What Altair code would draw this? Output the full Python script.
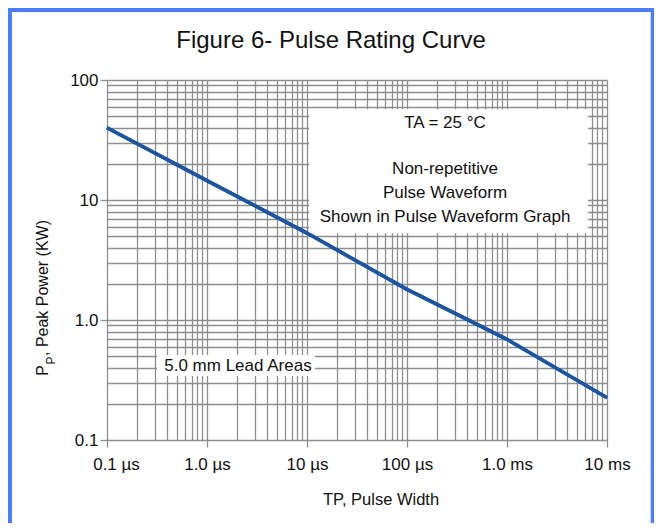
import altair as alt
import pandas as pd

# ---- data ----
pulse_width_us = [0.1, 1, 10, 100, 1000, 10000]
peak_power_kw = [40, 14.5, 5.3, 1.8, 0.69, 0.225]

x_tick_values = [0.1, 1, 10, 100, 1000, 10000]
x_tick_labels = ["0.1 µs", "1.0 µs", "10 µs", "100 µs", "1.0 ms", "10 ms"]
y_tick_values = [0.1, 1, 10, 100]
y_tick_labels = ["0.1", "1.0", "10", "100"]
minor_multipliers = [1, 2, 3, 4, 5, 6, 7, 8, 9]

note_lines = ["TA = 25 °C", "Non-repetitive", "Pulse Waveform", "Shown in Pulse Waveform Graph"]
note_x = [240, 240, 240, 240]
note_y = [39.8, 16.5, 10.4, 6.56]
note_box_x = [10.5, 6450]
note_box_y = [5.28, 57]

lead_text = ["5.0 mm Lead Areas"]
lead_text_x = [2.04]
lead_text_y = [0.376]
lead_box_x = [0.316, 12]
lead_box_y = [0.341, 0.511]

# ---- styling ----
NARROW = "Liberation Sans, Arial, sans-serif"
REG = "Liberation Sans, Arial, sans-serif"
GRID = "#8e8e8e"
LINE = "#1b55a3"
FRAME = "#4a7dfd"
TXT = "#111111"

x_grid = [m * v for v in x_tick_values[:-1] for m in minor_multipliers] + [x_tick_values[-1]]
y_grid = [m * v for v in y_tick_values[:-1] for m in minor_multipliers] + [y_tick_values[-1]]


def label_expr(values, labels):
    expr = "''"
    for v, lab in reversed(list(zip(values, labels))):
        expr = f"abs(datum.value/{v} - 1) < 1e-6 ? '{lab}' : ({expr})"
    return expr


def major_test(values):
    return " || ".join(f"abs(datum.value/{v} - 1) < 1e-6" for v in values)


x_scale = alt.Scale(type="log", domain=[0.1, 10000], nice=False)
y_scale = alt.Scale(type="log", domain=[0.1, 100], nice=False)

x_axis = alt.Axis(
    values=x_grid, labelExpr=label_expr(x_tick_values, x_tick_labels),
    grid=True, gridColor=GRID, gridWidth=1.3, gridOpacity=1,
    domain=False, tickColor=GRID, tickWidth=1.3,
    tickSize={"condition": {"test": major_test(x_tick_values), "value": 7}, "value": 0},
    labelOffset={"condition": {"test": "datum.value < 0.15", "value": 9}, "value": 0},
    labelFont=NARROW, labelFontSize=17, labelColor=TXT, labelPadding=9,
    labelOverlap=False, labelFlush=False, title=None,
)
y_axis = alt.Axis(
    values=y_grid, labelExpr=label_expr(y_tick_values, y_tick_labels),
    grid=True, gridColor=GRID, gridWidth=1.3, gridOpacity=1,
    domain=False, tickColor=GRID, tickWidth=1.3,
    tickSize={"condition": {"test": major_test(y_tick_values), "value": 7}, "value": 0},
    labelFont=NARROW, labelFontSize=17, labelColor=TXT, labelPadding=2,
    labelOverlap=False, labelFlush=False, title=None,
)

curve_df = pd.DataFrame({"tp": pulse_width_us, "pp": peak_power_kw})
boxes_df = pd.DataFrame({
    "x1": [note_box_x[0], lead_box_x[0]], "x2": [note_box_x[1], lead_box_x[1]],
    "y1": [note_box_y[0], lead_box_y[0]], "y2": [note_box_y[1], lead_box_y[1]],
})
notes_df = pd.DataFrame({"t": note_lines + lead_text, "x": note_x + lead_text_x, "y": note_y + lead_text_y})

curve = alt.Chart(curve_df).mark_line(color=LINE, strokeWidth=3.5).encode(
    x=alt.X("tp:Q", scale=x_scale, axis=x_axis),
    y=alt.Y("pp:Q", scale=y_scale, axis=y_axis),
)

boxes = alt.Chart(boxes_df).mark_rect(fill="white", stroke=None).encode(
    x=alt.X("x1:Q", scale=x_scale), x2="x2:Q",
    y=alt.Y("y1:Q", scale=y_scale), y2="y2:Q",
)

notes = alt.Chart(notes_df).mark_text(
    font=NARROW, fontSize=17, color=TXT, align="center", baseline="alphabetic"
).encode(
    x=alt.X("x:Q", scale=x_scale), y=alt.Y("y:Q", scale=y_scale), text="t:N"
)

one = alt.Data(values=[{}])

title = alt.Chart(one).mark_text(
    text="Figure 6- Pulse Rating Curve", font=REG, fontSize=24, color=TXT,
    align="center", baseline="alphabetic"
).encode(x=alt.value(224), y=alt.value(-32))

x_title = alt.Chart(one).mark_text(
    text="TP, Pulse Width", font=NARROW, fontSize=16.5, color=TXT,
    align="center", baseline="alphabetic"
).encode(x=alt.value(274), y=alt.value(425))

y_title_a = alt.Chart(one).mark_text(
    text="P", font=NARROW, fontSize=16, color=TXT, angle=270,
    align="left", baseline="alphabetic"
).encode(x=alt.value(-59), y=alt.value(295.7))
y_title_b = alt.Chart(one).mark_text(
    text="P", font=NARROW, fontSize=12, color=TXT, angle=270,
    align="left", baseline="alphabetic"
).encode(x=alt.value(-52.5), y=alt.value(284.5))
y_title_c = alt.Chart(one).mark_text(
    text=", Peak Power (KW)", font=NARROW, fontSize=16, color=TXT, angle=270,
    align="left", baseline="alphabetic"
).encode(x=alt.value(-59), y=alt.value(276))

frame_left = alt.Chart(one).mark_rule(color=FRAME, strokeWidth=4).encode(
    x=alt.value(-97), y=alt.value(-72), y2=alt.value(443))
frame_right = alt.Chart(one).mark_rule(color=FRAME, strokeWidth=3.5).encode(
    x=alt.value(545.5), y=alt.value(-72), y2=alt.value(443))
frame_top = alt.Chart(one).mark_rule(color=FRAME, strokeWidth=4).encode(
    y=alt.value(-70), x=alt.value(-99), x2=alt.value(547))

chart = alt.layer(
    curve, boxes, notes, curve, title, x_title, y_title_a, y_title_b, y_title_c,
    frame_left, frame_right, frame_top,
).properties(
    width=500, height=360,
    autosize=alt.AutoSizeParams(type="none"),
    padding={"left": 99, "top": 72, "right": 47, "bottom": 83},
).configure_view(stroke=None).configure(background="white")

chart.save("out.html", embed_options={"renderer": "svg", "actions": False})
